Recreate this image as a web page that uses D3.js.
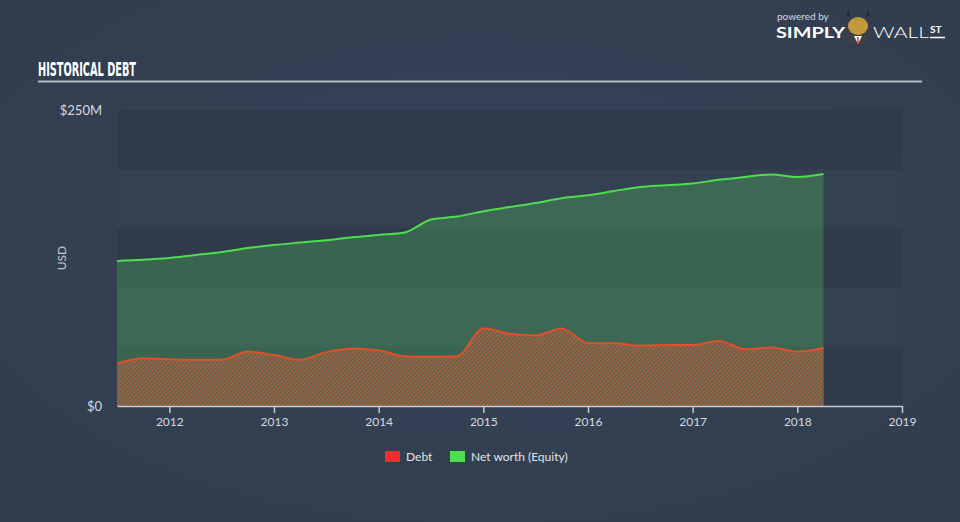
<!DOCTYPE html>
<html><head><meta charset="utf-8">
<script src="https://cdn.jsdelivr.net/npm/d3@7"></script>
<style>
html,body{margin:0;padding:0;background:#344051;}
svg{display:block;}
text{font-family:"Lato","Open Sans",sans-serif;}
</style></head>
<body><svg id="c" width="960" height="522"></svg>
<script>
const dates = [2011.5,2011.75,2012,2012.25,2012.5,2012.75,2013,2013.25,2013.5,2013.75,2014,2014.25,2014.5,2014.75,2015,2015.25,2015.5,2015.75,2016,2016.25,2016.5,2016.75,2017,2017.25,2017.5,2017.75,2018,2018.25];
const debt = [36,40.3,39.5,39,39,46,43,39,45.5,48.5,47,42,41.5,42,65.5,61,59.5,65.5,53,53,51,51.5,51.5,55,48,49.5,46,49];
const equity = [122.5,123.5,125,127.5,130,133.5,136,138,140,142.5,144.5,146.5,157.5,160,164.5,168,171.5,175.5,178,181.5,185,186.5,188,191,193.5,195.5,193.5,196];
const xTicks = [2012,2013,2014,2015,2016,2017,2018,2019];
const yTickLabels = ["$0","$250M"];
const yTickValues = [0,250];
const legendLabels = ["Debt","Net worth (Equity)"];

const svg = d3.select("#c");
const defs = svg.append("defs");
const grad = defs.append("radialGradient").attr("id","bg").attr("cx","50%").attr("cy","45%").attr("r","70%");
grad.append("stop").attr("offset","0%").attr("stop-color","#36445a");
grad.append("stop").attr("offset","100%").attr("stop-color","#313d4c");
svg.append("rect").attr("width",960).attr("height",522).attr("fill","url(#bg)");

const pat = defs.append("pattern").attr("id","hatch").attr("patternUnits","userSpaceOnUse")
  .attr("width",3).attr("height",3).attr("patternTransform","rotate(45)");
pat.append("rect").attr("width",3).attr("height",3).attr("fill","#4a6a52");
pat.append("rect").attr("width",1.4).attr("height",3).attr("fill","#c25a3c");

const x = d3.scaleLinear().domain([2011.5,2019]).range([117,902]);
const y = d3.scaleLinear().domain([0,250]).range([406,110]);

// bands
const bandEdges = [0,50,100,150,200,250];
for(let i=0;i<5;i++){
  svg.append("rect").attr("x",x(2011.5)).attr("width",x(2019)-x(2011.5))
    .attr("y",y(bandEdges[i+1])).attr("height",y(bandEdges[i])-y(bandEdges[i+1]))
    .attr("fill", i%2===0 ? "#2f3b4a" : "#344151");
}

// title
svg.append("text").attr("x",38).attr("y",76).text("HISTORICAL DEBT")
  .attr("fill","#ffffff").style("font-family","'Liberation Sans Narrow','DejaVu Sans Condensed',sans-serif")
  .style("font-weight","bold").style("font-size","19px").attr("textLength",98).attr("lengthAdjust","spacingAndGlyphs");
svg.append("line").attr("x1",38).attr("x2",922).attr("y1",81.5).attr("y2",81.5).attr("stroke","#b3b9c1").attr("stroke-width",2);

// logo
const logo = svg.append("g");
logo.append("text").attr("x",777).attr("y",20).text("powered by").attr("fill","#d5dae0").style("font-size","10px");
logo.append("text").attr("x",776).attr("y",38).text("SIMPLY").attr("fill","#ffffff").style("font-size","15px").style("font-weight","bold").attr("textLength",69).attr("lengthAdjust","spacingAndGlyphs");
logo.append("circle").attr("cx",858).attr("cy",33).attr("r",13).attr("fill","#3c3f45");
logo.append("ellipse").attr("cx",858).attr("cy",26).attr("rx",10).attr("ry",9).attr("fill","#c39a3b");
logo.append("path").attr("d","M847,16 Q846,12 849,10 L850,17 Z M869,16 Q870,12 867,10 L866,17 Z").attr("fill","#2a2a2a");
logo.append("path").attr("d","M854,36 L858,44 L862,36 Z").attr("fill","#ffffff");
logo.append("line").attr("x1",858).attr("x2",858).attr("y1",37).attr("y2",44).attr("stroke","#d23c2a").attr("stroke-width",1.5);
logo.append("text").attr("x",873).attr("y",38).text("WALL").attr("fill","#ffffff").style("font-size","15px").style("font-weight","300").attr("textLength",56).attr("lengthAdjust","spacingAndGlyphs");
logo.append("text").attr("x",930).attr("y",33).text("ST").attr("fill","#ffffff").style("font-size","10px").style("font-weight","bold");
logo.append("line").attr("x1",930).attr("x2",945).attr("y1",37.5).attr("y2",37.5).attr("stroke","#ffffff").attr("stroke-width",1.5);

const data = dates.map((d,i)=>({d, debt:debt[i], eq:equity[i]}));
const curve = d3.curveMonotoneX;

svg.append("path").datum(data)
  .attr("d", d3.area().x(p=>x(p.d)).y0(y(0)).y1(p=>y(p.eq)).curve(curve))
  .attr("fill","rgba(84,196,94,0.3)");
svg.append("path").datum(data)
  .attr("d", d3.area().x(p=>x(p.d)).y0(y(0)).y1(p=>y(p.debt)).curve(curve))
  .attr("fill","url(#hatch)");
svg.append("path").datum(data)
  .attr("d", d3.line().x(p=>x(p.d)).y(p=>y(p.eq)).curve(curve))
  .attr("fill","none").attr("stroke","#4fdc4f").attr("stroke-width",2);
svg.append("path").datum(data)
  .attr("d", d3.line().x(p=>x(p.d)).y(p=>y(p.debt)).curve(curve))
  .attr("fill","none").attr("stroke","#e0502c").attr("stroke-width",2);

const xAxis = d3.axisBottom(x).tickValues(xTicks).tickFormat(d3.format("d")).tickSize(7).tickSizeOuter(0);
const gx = svg.append("g").attr("transform","translate(0,406)").call(xAxis);
gx.select(".domain").attr("stroke","#c4cad2").attr("stroke-width",1.5);
gx.selectAll(".tick line").attr("stroke","#c4cad2").attr("stroke-width",1.5);
gx.selectAll(".tick text").attr("fill","#d5dae0").style("font-size","12px").style("font-family","Lato,sans-serif").attr("y",11);

svg.selectAll(".ylab").data(yTickValues).enter().append("text")
  .attr("x",102).attr("y",v=>y(v)).attr("dy","0.35em").attr("text-anchor","end")
  .text((v,i)=>yTickLabels[i]).attr("fill","#d5dae0").style("font-size","13px");
svg.append("text").attr("transform","translate(66,258) rotate(-90)").attr("text-anchor","middle")
  .text("USD").attr("fill","#c4cad2").style("font-size","12px");

const legColors = ["#e8312f","#4cde4c"];
const legX = [385,450];
legendLabels.forEach((l,i)=>{
  svg.append("rect").attr("x",legX[i]).attr("y",451).attr("width",15).attr("height",11).attr("fill",legColors[i]);
  svg.append("text").attr("x",legX[i]+21).attr("y",456.5).attr("dy","0.35em").text(l).attr("fill","#e0e4e8").style("font-size","12px");
});
</script></body></html>
